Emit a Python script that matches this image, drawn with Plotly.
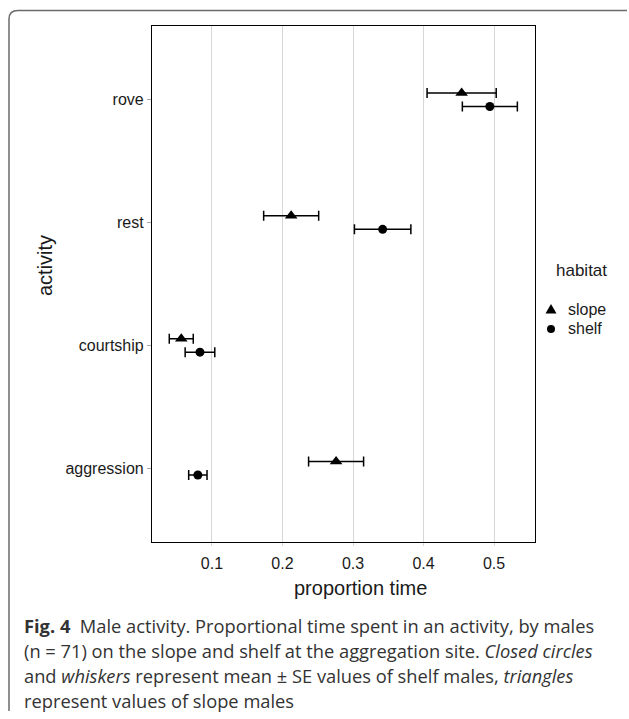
import plotly.graph_objects as go

# ---- data ----
activities = ["aggression", "courtship", "rest", "rove"]
habitats = ["slope", "shelf"]
slope_mean = [0.276, 0.0565, 0.2123, 0.454]
slope_se = [0.039, 0.017, 0.039, 0.049]
shelf_mean = [0.080, 0.083, 0.342, 0.494]
shelf_se = [0.013, 0.021, 0.040, 0.039]
x_ticks = [0.1, 0.2, 0.3, 0.4, 0.5]

W, H = 629, 719
L, R, T, B = 152, 535, 26, 542  # plot area in px
dodge = 0.055

def px(xp):
    return (xp - L) / (R - L)

def py(yp):
    return (B - yp) / (B - T)

pos = list(range(1, len(activities) + 1))
FONT = "Liberation Sans, Arial, sans-serif"
TXT = "#1a1a1a"

fig = go.Figure()
fig.add_trace(go.Scatter(
    x=slope_mean, y=[p + dodge for p in pos], mode="markers", name=habitats[0],
    marker=dict(symbol="triangle-up", size=11, color="black", line=dict(width=0)),
    error_x=dict(type="data", array=slope_se, visible=True, color="black",
                 thickness=1.5, width=5),
))
fig.add_trace(go.Scatter(
    x=shelf_mean, y=[p - dodge for p in pos], mode="markers", name=habitats[1],
    marker=dict(symbol="circle", size=9, color="black", line=dict(width=0)),
    error_x=dict(type="data", array=shelf_se, visible=True, color="black",
                 thickness=1.5, width=5),
))

axis_font = dict(family=FONT, size=16, color=TXT)

fig.update_layout(
    width=W, height=H,
    margin=dict(l=L, r=W - R, t=T, b=H - B, autoexpand=False),
    paper_bgcolor="white", plot_bgcolor="white",
    font=axis_font,
    showlegend=False,
    xaxis=dict(
        range=[0.015, 0.558], tickvals=x_ticks, ticktext=[str(v) for v in x_ticks],
        showgrid=True, gridcolor="#d6d6d6", gridwidth=1.2, zeroline=False,
        showline=True, linecolor="black", linewidth=1.2, mirror=True,
        ticks="outside", ticklen=3, tickcolor="#d6d6d6", tickfont=axis_font,
        ticklabelstandoff=4,
    ),
    yaxis=dict(
        range=[0.4, 4.6], tickvals=pos, ticktext=activities,
        showgrid=False, zeroline=False,
        showline=True, linecolor="black", linewidth=1.2, mirror=True,
        ticks="outside", ticklen=4, tickcolor="#aaaaaa", tickfont=axis_font,
    ),
)

# axis titles
fig.add_annotation(text="proportion time", xref="paper", yref="paper",
                   x=px(360), y=py(588), xanchor="center", yanchor="middle",
                   showarrow=False, font=dict(size=20, family=FONT, color=TXT))
fig.add_annotation(text="activity", xref="paper", yref="paper",
                   x=px(45), y=py(266), xanchor="center", yanchor="middle",
                   showarrow=False, textangle=-90,
                   font=dict(size=20, family=FONT, color=TXT))

# legend (drawn manually for exact spacing)
fig.add_annotation(text="habitat", xref="paper", yref="paper",
                   x=px(554), y=py(270), xanchor="left", yanchor="middle",
                   showarrow=False, font=dict(size=17, family=FONT, color=TXT))
leg_y = [309, 329]
for name, yy in zip(habitats, leg_y):
    fig.add_annotation(text=name, xref="paper", yref="paper",
                       x=px(566), y=py(yy), xanchor="left", yanchor="middle",
                       showarrow=False, font=dict(size=16, family=FONT, color=TXT))
# legend keys: triangle (slope) and circle (shelf)
cx = 551
ty = leg_y[0]
tri = (f"M {px(cx - 5.5)},{py(ty + 4.5)} L {px(cx + 5.5)},{py(ty + 4.5)} "
       f"L {px(cx)},{py(ty - 5)} Z")
fig.add_shape(type="path", path=tri, xref="paper", yref="paper",
              fillcolor="black", line=dict(width=0))
cy = leg_y[1]
fig.add_shape(type="circle", xref="paper", yref="paper",
              x0=px(cx - 4), x1=px(cx + 4), y0=py(cy + 4), y1=py(cy - 4),
              fillcolor="black", line=dict(width=0))

# caption
cap_font = dict(size=18.3, family="Open Sans, sans-serif", color="#333333")
caption_lines = [
    "<b>Fig. 4</b>  Male activity. Proportional time spent in an activity, by males",
    "(n = 71) on the slope and shelf at the aggregation site. <i>Closed circles</i>",
    "and <i>whiskers</i> represent mean ± SE values of shelf males, <i>triangles</i>",
    "represent values of slope males",
]
caption_y = [625, 650, 675, 700]
for line, yy in zip(caption_lines, caption_y):
    fig.add_annotation(text=line, xref="paper", yref="paper", x=px(22), y=py(yy),
                       xanchor="left", yanchor="middle", showarrow=False, font=cap_font)

# outer frame (left + top with rounded corner)
path = (f"M {px(9)},{py(711)} L {px(9)},{py(19)} "
        f"Q {px(9)},{py(10.5)} {px(18)},{py(10.5)} L {px(627)},{py(10.5)}")
fig.add_shape(type="path", path=path, xref="paper", yref="paper",
              line=dict(color="#6b6b6b", width=1.5), layer="above")

fig.write_html("out.html", config={"displayModeBar": False},
               post_script="document.body.style.margin='0px';document.body.style.overflow='hidden';")
